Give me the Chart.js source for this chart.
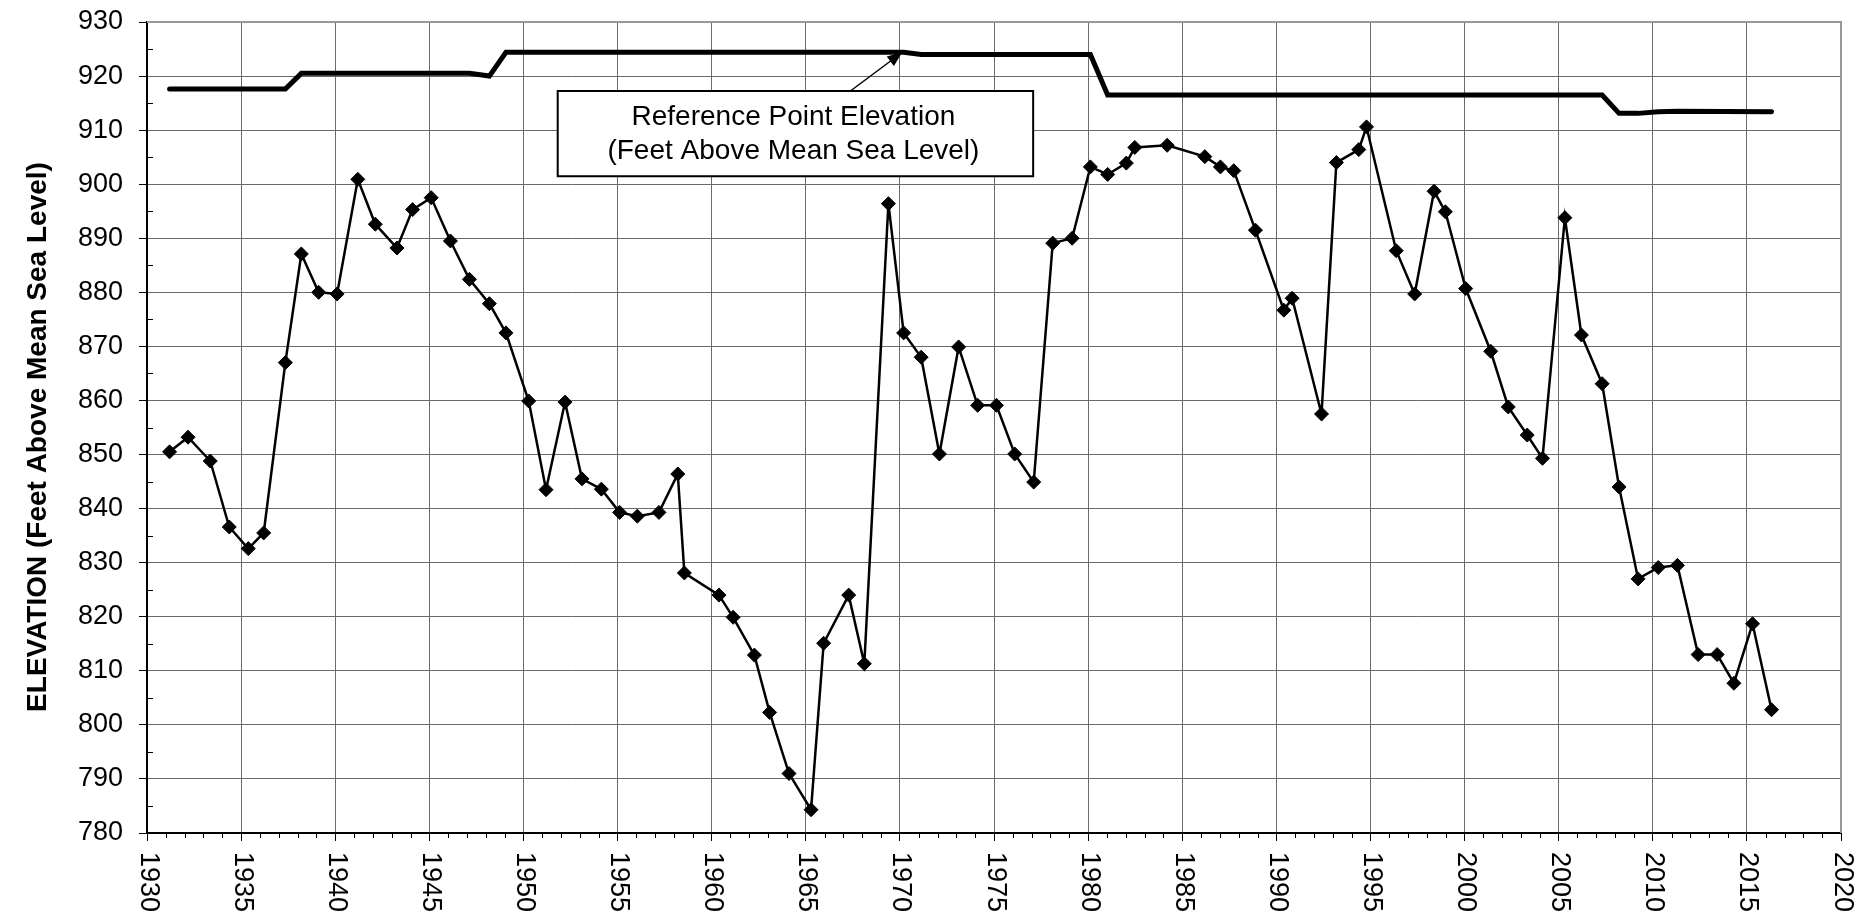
<!DOCTYPE html>
<html>
<head>
<meta charset="utf-8">
<title>Water Level Elevation</title>
<script src="https://cdn.jsdelivr.net/npm/chart.js@4.4.1/dist/chart.umd.min.js"></script>
<style>
    html, body { margin: 0; padding: 0; background: #fff; }
    #wrap { width: 1871px; height: 923px; position: relative; }
</style>
</head>
<body>
<div id="wrap"><canvas id="Elevation_Chart"></canvas></div>
<script>
// measured water level (decimal year / feet above MSL)
const measureYears = [1931.2, 1932.18, 1933.36, 1934.37, 1935.38, 1936.2, 1937.35, 1938.2, 1939.12, 1940.1,
    1941.2, 1942.13, 1943.28, 1944.11, 1945.1, 1946.12, 1947.13, 1948.19, 1949.07, 1950.28,
    1951.2, 1952.21, 1953.11, 1954.14, 1955.11, 1956.05, 1957.2, 1958.2, 1958.55, 1960.39,
    1961.14, 1962.27, 1963.08, 1964.11, 1965.28, 1965.95, 1967.28, 1968.11, 1969.39, 1970.2,
    1971.13, 1972.1, 1973.12, 1974.13, 1975.13, 1976.1, 1977.11, 1978.12, 1979.15, 1980.12,
    1981.04, 1982.03, 1982.48, 1984.2, 1986.2, 1987.03, 1987.74, 1988.89, 1990.4, 1990.84,
    1992.4, 1993.19, 1994.38, 1994.79, 1996.37, 1997.35, 1998.38, 1998.98, 2000.06, 2001.39,
    2002.32, 2003.33, 2004.14, 2005.33, 2006.21, 2007.31, 2008.21, 2009.22, 2010.29, 2011.31,
    2012.41, 2013.42, 2014.31, 2015.3, 2016.31];
const waterLevels = [850.5, 853.2, 848.8, 836.6, 832.6, 835.5, 867.0, 887.1, 880.0, 879.7,
    900.9, 892.6, 888.2, 895.3, 897.5, 889.5, 882.4, 877.9, 872.5, 859.9,
    843.5, 859.7, 845.5, 843.6, 839.3, 838.6, 839.3, 846.4, 828.1, 824.0,
    819.9, 812.9, 802.3, 791.0, 784.3, 815.1, 824.0, 811.3, 896.4, 872.5,
    868.0, 850.1, 869.9, 859.1, 859.1, 850.1, 844.9, 889.1, 890.0, 903.2,
    901.8, 903.9, 906.8, 907.2, 905.1, 903.2, 902.5, 891.5, 876.7, 878.9,
    857.5, 904.0, 906.4, 910.6, 887.7, 879.7, 898.7, 894.9, 880.7, 869.1,
    858.8, 853.6, 849.3, 893.8, 872.1, 863.1, 844.0, 827.0, 829.1, 829.5,
    813.0, 813.0, 807.7, 818.7, 802.8];

// reference point elevation over time
const refYears = [1931.2, 1937.35, 1938.2, 1947.13, 1948.19, 1949.07, 1970.2, 1971.13, 1980.12, 1981.04,
    2007.31, 2008.21, 2009.22, 2010.29, 2011.31, 2016.31];
const refElevations = [917.6, 917.6, 920.5, 920.5, 920.0, 924.4, 924.4, 924.0, 924.0, 916.5,
    916.5, 913.1, 913.1, 913.4, 913.5, 913.4];

const yearTicks = [1930, 1935, 1940, 1945, 1950, 1955, 1960, 1965, 1970, 1975,
    1980, 1985, 1990, 1995, 2000, 2005, 2010, 2015, 2020];

const yTitle = 'ELEVATION (Feet Above Mean Sea Level)';
const noteLines = ['Reference Point Elevation', '(Feet Above Mean Sea Level)'];

const FONT = "'Liberation Sans', Arial, sans-serif";

document.addEventListener("DOMContentLoaded", function () {
    const toPoints = (xs, ys) => xs.map((x, i) => ({ x: x, y: ys[i] }));

    // ticks, axis labels, border and callout that Chart.js can't do on its own
    const extras = {
        id: 'extras',
        afterDatasetsDraw(chart) {
            const { ctx, scales: { x, y } } = chart;
            const bx0 = x.getPixelForValue(1951.82), bx1 = x.getPixelForValue(1977.08);
            const by0 = y.getPixelForValue(917.24), by1 = y.getPixelForValue(901.47);

            ctx.save();
            ctx.fillStyle = '#fff';
            ctx.fillRect(bx0, by0, bx1 - bx0, by1 - by0);
            ctx.strokeStyle = '#000';
            ctx.lineWidth = 2;
            ctx.strokeRect(bx0, by0, bx1 - bx0, by1 - by0);

            ctx.fillStyle = '#000';
            ctx.font = '28px ' + FONT;
            ctx.textAlign = 'center';
            ctx.textBaseline = 'middle';
            const cx = (bx0 + bx1) / 2 - 2, cy = (by0 + by1) / 2;
            ctx.fillText(noteLines[0], cx, cy - 16);
            ctx.fillText(noteLines[1], cx, cy + 18);

            // arrow up to the reference line
            const ax0 = x.getPixelForValue(1967.37), ay0 = by0;
            const ax1 = x.getPixelForValue(1970.13), ay1 = y.getPixelForValue(924.4);
            const ang = Math.atan2(ay1 - ay0, ax1 - ax0);
            ctx.lineWidth = 1.5;
            ctx.beginPath();
            ctx.moveTo(ax0, ay0);
            ctx.lineTo(ax1 - 10 * Math.cos(ang), ay1 - 10 * Math.sin(ang));
            ctx.stroke();
            ctx.beginPath();
            ctx.moveTo(ax1, ay1);
            ctx.lineTo(ax1 - 15 * Math.cos(ang) + 6 * Math.sin(ang), ay1 - 15 * Math.sin(ang) - 6 * Math.cos(ang));
            ctx.lineTo(ax1 - 15 * Math.cos(ang) - 6 * Math.sin(ang), ay1 - 15 * Math.sin(ang) + 6 * Math.cos(ang));
            ctx.closePath();
            ctx.fill();
            ctx.restore();
        },
        afterDraw(chart) {
            const { ctx, chartArea: area, scales: { x, y } } = chart;
            ctx.save();

            // grey frame on top and right
            ctx.strokeStyle = '#999';
            ctx.lineWidth = 2;
            ctx.beginPath();
            ctx.moveTo(area.left, area.top);
            ctx.lineTo(area.right, area.top);
            ctx.lineTo(area.right, area.bottom);
            ctx.stroke();

            // minor ticks
            ctx.strokeStyle = '#000';
            ctx.lineWidth = 1;
            ctx.beginPath();
            for (let v = 785; v < 930; v += 10) {
                const py = Math.round(y.getPixelForValue(v)) + 0.5;
                ctx.moveTo(area.left, py);
                ctx.lineTo(area.left + 6, py);
            }
            for (let yr = 1931; yr < 2020; yr++) {
                if (yr % 5 === 0) continue;
                const px = Math.round(x.getPixelForValue(yr)) + 0.5;
                ctx.moveTo(px, area.bottom);
                ctx.lineTo(px, area.bottom + 5);
            }
            ctx.stroke();

            // year labels, turned clockwise
            ctx.fillStyle = '#000';
            ctx.font = '27px ' + FONT;
            ctx.textAlign = 'left';
            ctx.textBaseline = 'middle';
            yearTicks.forEach((yr) => {
                ctx.save();
                ctx.translate(x.getPixelForValue(yr) + 1, area.bottom + 19);
                ctx.rotate(Math.PI / 2);
                ctx.fillText(String(yr), 0, 0);
                ctx.restore();
            });

            // y axis title
            ctx.font = 'bold 28px ' + FONT;
            ctx.textAlign = 'center';
            ctx.save();
            ctx.translate(38, 437);
            ctx.rotate(-Math.PI / 2);
            ctx.fillText(yTitle, 0, 0);
            ctx.restore();

            ctx.restore();
        }
    };

    const ctx = document.getElementById('Elevation_Chart').getContext('2d');
    new Chart(ctx, {
        type: 'line',
        data: {
            datasets: [{
                label: 'Reference Point Elevation',
                data: toPoints(refYears, refElevations),
                borderColor: '#000',
                borderWidth: 5,
                borderCapStyle: 'round',
                pointRadius: 0,
                tension: 0
            }, {
                label: 'Water Level',
                data: toPoints(measureYears, waterLevels),
                borderColor: '#000',
                borderWidth: 2.5,
                pointStyle: 'rectRot',
                pointRadius: 7,
                pointBorderWidth: 1,
                pointBackgroundColor: '#000',
                pointBorderColor: '#000',
                tension: 0
            }]
        },
        options: {
            responsive: true,
            maintainAspectRatio: false,
            animation: false,
            layout: {
                padding: { left: 0, top: 22, right: 30, bottom: 0 }
            },
            scales: {
                x: {
                    type: 'linear',
                    min: 1930,
                    max: 2020,
                    afterFit: (scale) => {
                        scale.height = 90;
                        scale.paddingLeft = 0;
                        scale.paddingRight = 0;
                    },
                    ticks: { display: false, stepSize: 5 },
                    grid: { color: '#6a6a6a', lineWidth: 1, tickColor: '#000', tickLength: 8 },
                    border: { color: '#000', width: 2 }
                },
                y: {
                    min: 780,
                    max: 930,
                    afterFit: (scale) => {
                        scale.width = 147;
                        scale.paddingTop = 0;
                        scale.paddingBottom = 0;
                    },
                    ticks: {
                        stepSize: 10,
                        padding: 16,
                        color: '#000',
                        font: { family: FONT, size: 27 }
                    },
                    grid: { color: '#6a6a6a', lineWidth: 1, tickColor: '#000', tickLength: 8 },
                    border: { color: '#000', width: 2 }
                }
            },
            plugins: {
                legend: { display: false },
                tooltip: { enabled: false }
            }
        },
        plugins: [extras]
    });
});
</script>
</body>
</html>
